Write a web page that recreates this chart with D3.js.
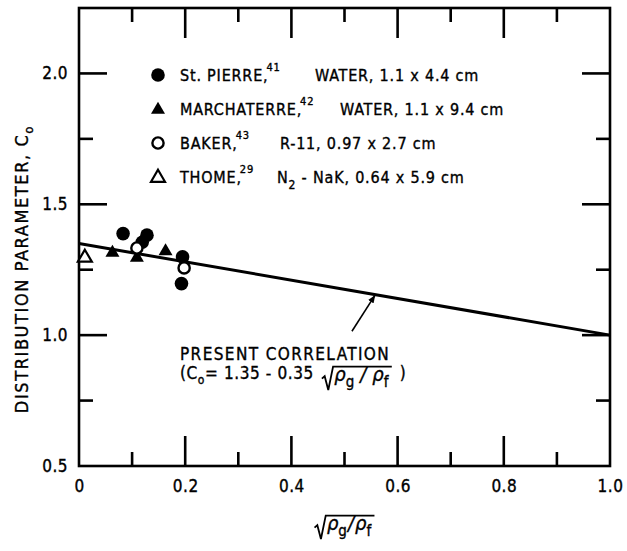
<!DOCTYPE html>
<html>
<head>
<meta charset="utf-8">
<script src="https://cdn.jsdelivr.net/npm/d3@7"></script>
<style>
  html, body { margin: 0; padding: 0; background: #fff; }
  svg text { font-family: 'DejaVu Sans Condensed', 'Liberation Sans Narrow', 'DejaVu Sans', sans-serif; fill: #000; stroke: #000; stroke-width: 0.35px; }
</style>
</head>
<body>
<svg id="chart" width="627" height="551"></svg>
<script>
// ---------------- data ----------------
const xTickValues = [0, 0.2, 0.4, 0.6, 0.8, 1.0];
const xTickLabels = ["0", "0.2", "0.4", "0.6", "0.8", "1.0"];
const yTickValues = [0.5, 1.0, 1.5, 2.0];
const yTickLabels = ["0.5", "1.0", "1.5", "2.0"];

const stPierreX = [0.083, 0.128, 0.119, 0.195, 0.193];
const stPierreY = [1.388, 1.382, 1.355, 1.299, 1.197];
const marchaterreX = [0.063, 0.109, 0.163];
const marchaterreY = [1.318, 1.299, 1.324];
const bakerX = [0.109, 0.198];
const bakerY = [1.333, 1.257];
const thomeX = [0.011];
const thomeY = [1.299];

const corrX = [0, 1.0];
const corrIntercept = 1.35;
const corrSlope = -0.35;

const legendNames = ["St. PIERRE,", "MARCHATERRE,", "BAKER,", "THOME,"];
const legendRefs = ["41", "42", "43", "29"];
const legendFluids = ["WATER,", "WATER,", "R-11,", "N2-NaK,"];
const legendDims = ["1.1 x 4.4 cm", "1.1 x 9.4 cm", "0.97 x 2.7 cm", "0.64 x 5.9 cm"];
const legendMarkers = ["filledCircle", "filledTriangle", "openCircle", "openTriangle"];

// ---------------- layout ----------------
const svg = d3.select("#chart");
const pL = 79, pR = 610, pT = 8, pB = 466;
const x = d3.scaleLinear().domain([0, 1.0]).range([pL, pR]);
const y = d3.scaleLinear().domain([0.5, 2.25]).range([pB, pT]);

const SW = 2.6;

// frame
svg.append("rect").attr("x", pL).attr("y", pT).attr("width", pR - pL).attr("height", pB - pT)
  .attr("fill", "none").attr("stroke", "#000").attr("stroke-width", SW);

// ticks
const xMinor = [0.1, 0.3, 0.5, 0.7, 0.9];
const xMajor = [0.2, 0.4, 0.6, 0.8];
const yMinor = [0.75, 1.25, 1.75];
const yMajor = [1.0, 1.5, 2.0];
const tg = svg.append("g").attr("stroke", "#000").attr("stroke-width", SW);
function xt(vals, len) {
  vals.forEach(v => {
    tg.append("line").attr("x1", x(v)).attr("x2", x(v)).attr("y1", pB).attr("y2", pB - len);
    tg.append("line").attr("x1", x(v)).attr("x2", x(v)).attr("y1", pT).attr("y2", pT + len);
  });
}
function yt(vals, len) {
  vals.forEach(v => {
    tg.append("line").attr("y1", y(v)).attr("y2", y(v)).attr("x1", pL).attr("x2", pL + len);
    tg.append("line").attr("y1", y(v)).attr("y2", y(v)).attr("x1", pR).attr("x2", pR - len);
  });
}
xt(xMinor, 14); xt(xMajor, 30);
yt(yMinor, 14); yt(yMajor, 28);

// tick labels via d3 axes (no lines)
const xAxis = svg.append("g").attr("transform", `translate(0,${pB})`)
  .call(d3.axisBottom(x).tickValues(xTickValues).tickFormat((d, i) => xTickLabels[i]).tickSize(0).tickPadding(14));
xAxis.select(".domain").remove();
xAxis.selectAll("text").style("font-size", "17px").style("letter-spacing", "0.5px");
const yAxis = svg.append("g").attr("transform", `translate(${pL},0)`)
  .call(d3.axisLeft(y).tickValues(yTickValues).tickFormat((d, i) => yTickLabels[i]).tickSize(0).tickPadding(11));
yAxis.select(".domain").remove();
yAxis.selectAll("text").style("font-size", "17px").style("letter-spacing", "0.5px");

// y axis title
const yl = svg.append("text").attr("transform", `translate(28,${269}) rotate(-90)`)
  .attr("text-anchor", "middle").style("font-size", "18px").style("letter-spacing", "1.6px");
yl.append("tspan").text("DISTRIBUTION  PARAMETER,  C");
yl.append("tspan").attr("dy", "0.35em").style("font-size", "13px").text("o");

// sqrt(rho_g/rho_f) helper
function sqrtRatio(parent, x0, yb, fs, gap) {
  const g = parent.append("g");
  const t = g.append("text").attr("x", x0 + fs * 0.62).attr("y", yb).style("font-size", fs + "px").style("font-style", "italic");
  t.append("tspan").text("ρ");
  t.append("tspan").attr("dy", fs * 0.3).style("font-size", (fs * 0.75) + "px").style("font-style", "normal").text("g");
  t.append("tspan").attr("dy", -fs * 0.3).attr("dx", gap).text("/");
  t.append("tspan").attr("dx", gap).text("ρ");
  t.append("tspan").attr("dy", fs * 0.3).style("font-size", (fs * 0.75) + "px").style("font-style", "normal").text("f");
  const bb = t.node().getBBox();
  const rx = bb.x + bb.width + 2;
  g.append("path")
    .attr("d", `M${x0},${yb - fs * 0.12} L${x0 + fs * 0.14},${yb - fs * 0.24} L${x0 + fs * 0.32},${yb + fs * 0.45} L${x0 + fs * 0.56},${yb - fs * 0.72} L${rx},${yb - fs * 0.72}`)
    .attr("fill", "none").attr("stroke", "#000").attr("stroke-width", 1.8);
  return rx;
}

// x axis title
const xlG = svg.append("g");
const rxEnd = sqrtRatio(xlG, 0, 530, 20, 1);
xlG.attr("transform", `translate(${(pL + pR) / 2 - rxEnd / 2},0)`);

// correlation line
svg.append("path")
  .datum(corrX)
  .attr("d", d3.line().x(d => x(d)).y(d => y(corrIntercept + corrSlope * d)))
  .attr("stroke", "#000").attr("stroke-width", 3).attr("fill", "none");

// arrow annotation
const arrowTail = [0.514, 1.015], arrowTip = [0.557, corrIntercept + corrSlope * 0.557 - 0.004];
svg.append("defs").append("marker").attr("id", "ah").attr("viewBox", "0 0 10 10").attr("refX", 9).attr("refY", 5)
  .attr("markerWidth", 5).attr("markerHeight", 5).attr("orient", "auto")
  .append("path").attr("d", "M0,1 L10,5 L0,9 Z").attr("fill", "#000");
svg.append("line").attr("x1", x(arrowTail[0])).attr("y1", y(arrowTail[1])).attr("x2", x(arrowTip[0])).attr("y2", y(arrowTip[1]))
  .attr("stroke", "#000").attr("stroke-width", 1.6).attr("marker-end", "url(#ah)");

// correlation label
svg.append("text").attr("x", 180).attr("y", 360).style("font-size", "17px").style("letter-spacing", "1.4px").text("PRESENT CORRELATION");
const l2 = svg.append("text").attr("x", 180).attr("y", 379).style("font-size", "17px").style("letter-spacing", "0.6px");
l2.append("tspan").text("(C");
l2.append("tspan").attr("dy", 5).style("font-size", "12px").text("o");
l2.append("tspan").attr("dy", -5).text("= 1.35 - 0.35");
const l2end = l2.node().getBBox();
const sqEnd = sqrtRatio(svg, l2end.x + l2end.width + 8, 381, 20, 6);
svg.append("text").attr("x", sqEnd + 8).attr("y", 379).style("font-size", "17px").text(")");

// markers
function drawMarker(g, type, cx, cy) {
  const r = 6.8;
  if (type === "filledCircle") {
    g.append("circle").attr("cx", cx).attr("cy", cy).attr("r", r).attr("fill", "#000");
  } else if (type === "openCircle") {
    g.append("circle").attr("cx", cx).attr("cy", cy).attr("r", r - 1.2).attr("fill", "#fff").attr("stroke", "#000").attr("stroke-width", 2.4);
  } else {
    const h = 12, w = 14;
    const d = `M${cx},${cy - h * 0.6} L${cx + w / 2},${cy + h * 0.4} L${cx - w / 2},${cy + h * 0.4} Z`;
    if (type === "filledTriangle") g.append("path").attr("d", d).attr("fill", "#000");
    else g.append("path").attr("d", d).attr("fill", "#fff").attr("stroke", "#000").attr("stroke-width", 2.2).attr("stroke-linejoin", "miter");
  }
}
const mg = svg.append("g");
marchaterreX.forEach((v, i) => drawMarker(mg, "filledTriangle", x(v), y(marchaterreY[i])));
stPierreX.forEach((v, i) => drawMarker(mg, "filledCircle", x(v), y(stPierreY[i])));
bakerX.forEach((v, i) => drawMarker(mg, "openCircle", x(v), y(bakerY[i])));
thomeX.forEach((v, i) => drawMarker(mg, "openTriangle", x(v), y(thomeY[i])));

// legend
const legRowY = [81, 115, 149, 183];
const legFluidX = [315, 340, 280, 277];
const lg = svg.append("g");
legendNames.forEach((name, i) => {
  const yb = legRowY[i];
  drawMarker(lg, legendMarkers[i], 158, yb - 6);
  const t = lg.append("text").attr("x", 180).attr("y", yb).style("font-size", "16px").style("letter-spacing", "0.8px");
  t.append("tspan").text(name);
  t.append("tspan").attr("dy", -10).attr("dx", -2).style("font-size", "11px").text(legendRefs[i]);
  const f = lg.append("text").attr("x", legFluidX[i]).attr("y", yb).style("font-size", "16px").style("letter-spacing", "0.8px");
  const fluid = legendFluids[i];
  if (fluid.startsWith("N2")) {
    f.append("tspan").text("N");
    f.append("tspan").attr("dy", 6).style("font-size", "12px").text("2");
    f.append("tspan").attr("dy", -6).text(" - NaK,");
  } else {
    f.append("tspan").text(fluid);
  }
  f.append("tspan").text("  " + legendDims[i]);
});
</script>
</body>
</html>
